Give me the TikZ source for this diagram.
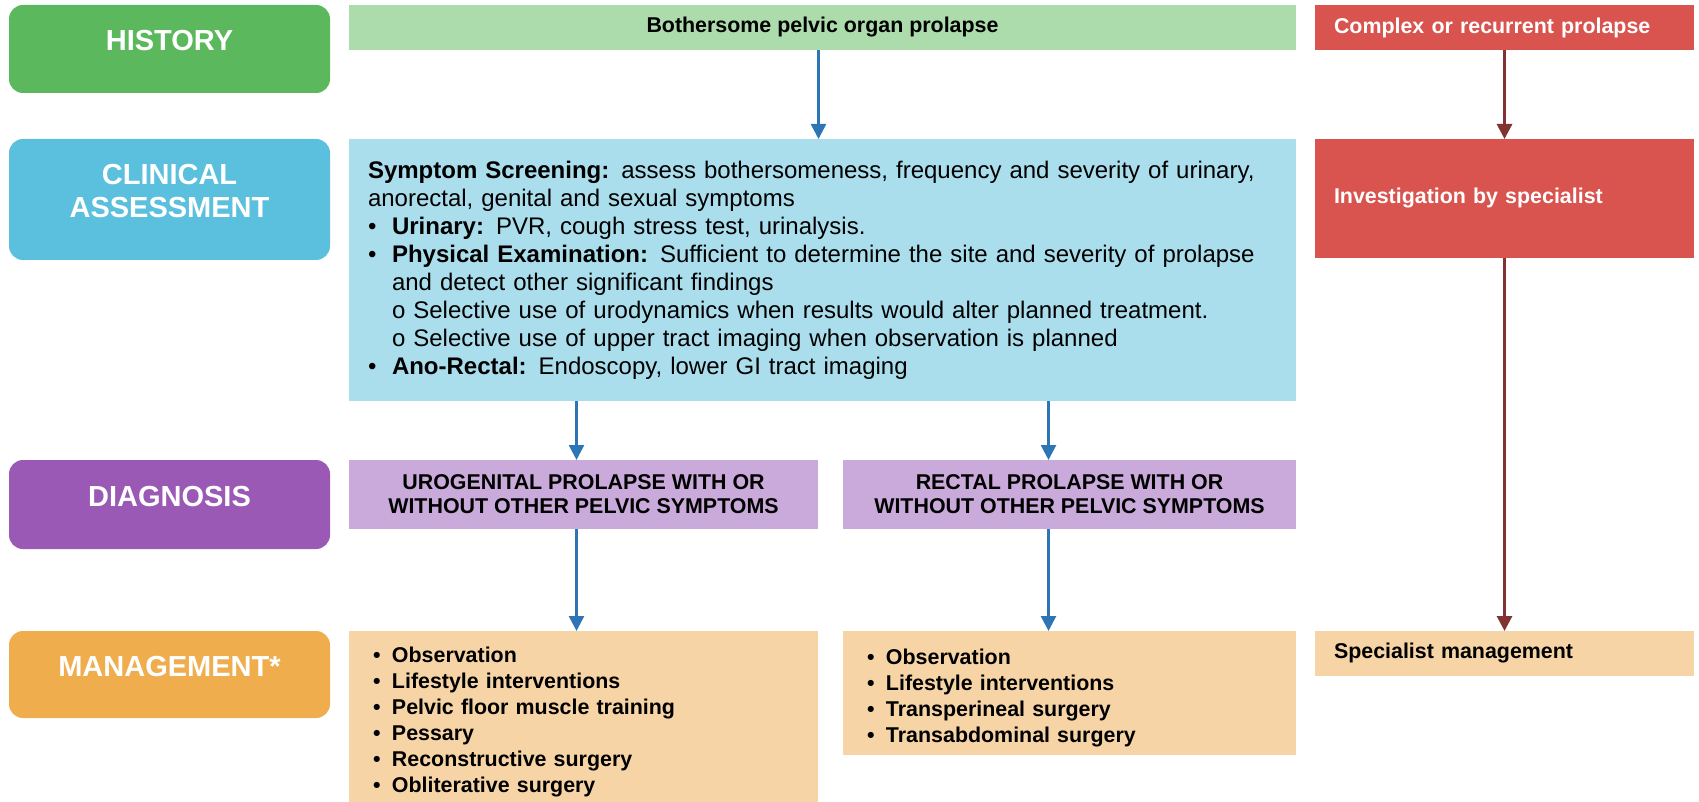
\documentclass[tikz,border=0pt]{standalone}
\usepackage{fontspec}
\setmainfont{Liberation Sans}
\usetikzlibrary{arrows.meta}
\definecolor{hgreen}{HTML}{5CB85C}
\definecolor{lgreen}{HTML}{ACDBAC}
\definecolor{hblue}{HTML}{5BC0DE}
\definecolor{lblue}{HTML}{AADEEC}
\definecolor{hpurple}{HTML}{9B59B6}
\definecolor{lpurple}{HTML}{C9AADA}
\definecolor{horange}{HTML}{F0AD4E}
\definecolor{lorange}{HTML}{F6D4A6}
\definecolor{sred}{HTML}{D9534F}
\definecolor{ablue}{HTML}{2E75B6}
\definecolor{abrown}{HTML}{833232}
\newcommand{\bul}[1]{\par\hangindent=24pt\hangafter=1\noindent\makebox[24pt][l]{\textbullet}#1}
\newcommand{\sbul}[1]{\par\hangindent=44pt\hangafter=1\noindent\hspace*{24pt}o #1}
\newcommand{\mbul}[1]{\par\noindent\makebox[19pt][l]{\textbullet}#1}
\tikzset{%
    hdr/.style={anchor=north west,inner sep=0pt,outer sep=0pt,rounded corners=14pt,minimum width=321pt},
    hdrtxt/.style={text=white,yshift=8pt,align=center,inner sep=0pt,font=\fontsize{29}{33}\selectfont\bfseries},
    box/.style={anchor=north west,inner sep=0pt,outer sep=0pt},
    lbl/.style={font=\fontsize{21.4}{24}\selectfont\bfseries},
    txtbox/.style={box,align=left,inner xsep=19pt},
    lst/.style={box,fill=lorange,align=left,inner xsep=24pt,font=\fontsize{21.4}{26}\selectfont\bfseries},
    barrow/.style={draw=ablue,line width=2.6pt,-{Triangle[length=15pt,width=15pt]}},
    rarrow/.style={draw=abrown,line width=3pt,-{Triangle[length=15pt,width=15pt]}}
}
\begin{document}
\begin{tikzpicture}[x=1pt,y=-1pt]
    \useasboundingbox (0,0) rectangle (1699,802);
    % row headers
    \node[hdr,fill=hgreen,minimum height=88pt,label={[hdrtxt]center:HISTORY}] (history) at (9,5) {};
    \node[hdr,fill=hblue,minimum height=121pt,label={[hdrtxt]center:{CLINICAL\\ASSESSMENT}}] (clinical) at (9,139) {};
    \node[hdr,fill=hpurple,minimum height=89pt,label={[hdrtxt]center:DIAGNOSIS}] (diagnosis) at (9,460) {};
    \node[hdr,fill=horange,minimum height=87pt,label={[hdrtxt]center:MANAGEMENT*}] (management) at (9,631) {};
    % history
    \node[box,lbl,fill=lgreen,minimum width=947pt,minimum height=45pt] (bother) at (349,5) {Bothersome pelvic organ prolapse};
    \node[txtbox,lbl,fill=sred,text=white,text width=341pt,minimum height=45pt] (complex) at (1315,5) {Complex or recurrent prolapse};
    % assessment
    \node[txtbox,fill=lblue,text width=909pt,minimum height=262pt,font=\fontsize{24}{28}\selectfont] (assess) at (349,139) {%
        \textbf{Symptom Screening:} assess bothersomeness, frequency and severity of urinary,\newline anorectal, genital and sexual symptoms
        \bul{\textbf{Urinary:} PVR, cough stress test, urinalysis.}
        \bul{\textbf{Physical Examination:} Sufficient to determine the site and severity of prolapse\newline and detect other significant findings}
        \sbul{Selective use of urodynamics when results would alter planned treatment.}
        \sbul{Selective use of upper tract imaging when observation is planned}
        \bul{\textbf{Ano-Rectal:} Endoscopy, lower GI tract imaging}};
    \node[txtbox,lbl,fill=sred,text=white,text width=341pt,minimum height=119pt] (invest) at (1315,139) {Investigation by specialist};
    % diagnosis
    \node[box,lbl,fill=lpurple,align=center,minimum width=469pt,minimum height=69pt] (uro) at (349,460) {UROGENITAL PROLAPSE WITH OR\\WITHOUT OTHER PELVIC SYMPTOMS};
    \node[box,lbl,fill=lpurple,align=center,minimum width=453pt,minimum height=69pt] (rect) at (843,460) {RECTAL PROLAPSE WITH OR\\WITHOUT OTHER PELVIC SYMPTOMS};
    % management
    \node[lst,text width=421pt,minimum height=171pt] (mguro) at (349,631) {%
        \mbul{Observation}
        \mbul{Lifestyle interventions}
        \mbul{Pelvic floor muscle training}
        \mbul{Pessary}
        \mbul{Reconstructive surgery}
        \mbul{Obliterative surgery}};
    \node[lst,text width=405pt,minimum height=124pt] (mgrect) at (843,631) {%
        \mbul{Observation}
        \mbul{Lifestyle interventions}
        \mbul{Transperineal surgery}
        \mbul{Transabdominal surgery}};
    \node[txtbox,lbl,fill=lorange,text width=341pt,minimum height=45pt] (spec) at (1315,631) {Specialist management};
    % arrows
    \coordinate (ua) at ([xshift=-7pt]uro.north);
    \coordinate (ub) at ([xshift=-7pt]uro.south);
    \coordinate (ra) at ([xshift=-21pt]rect.north);
    \coordinate (rb) at ([xshift=-21pt]rect.south);
    \draw[barrow] ([xshift=-4pt]bother.south) -- ([xshift=-4pt]assess.north);
    \draw[barrow] (ua |- assess.south) -- (ua);
    \draw[barrow] (ub) -- (ub |- mguro.north);
    \draw[barrow] (ra |- assess.south) -- (ra);
    \draw[barrow] (rb) -- (rb |- mgrect.north);
    \draw[rarrow] (complex) -- (invest);
    \draw[rarrow] (invest) -- (spec);
\end{tikzpicture}
\end{document}
